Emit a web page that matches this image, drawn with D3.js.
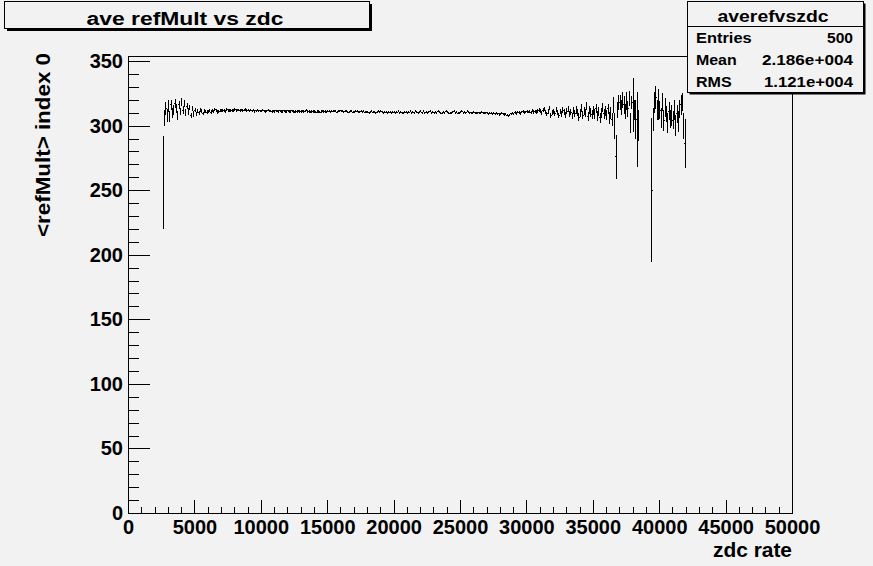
<!DOCTYPE html>
<html>
<head>
<meta charset="utf-8">
<script src="https://cdn.jsdelivr.net/npm/d3@7"></script>
<style>
  html, body { margin: 0; padding: 0; background: #f2f2f2; }
  svg { display: block; }
  text { font-family: "Liberation Sans", Arial, Helvetica, sans-serif; font-weight: bold; fill: #000; }
</style>
</head>
<body>
<div id="chart"></div>
<script>
// profile bins: 100 wide, first filled bin starts at 2600
var binStart = 2600, binWidth = 100;

var refMult = [
  256, 306, 313, 308,
  315, 307, 316, 310, 312, 317, 313, 308, 316, 311,
  318, 312, 317, 310, 315, 311, 314, 308, 313, 309,
  312, 309, 311, 310, 312, 311, 309.5, 311.5, 311, 310.5,
  311, 311.5, 310.5, 312, 311, 312.5, 311.5, 310.5, 311, 311.5,
  312, 311.5, 312, 311, 312.5, 311.5, 312, 312, 311.5, 312,
  312.5, 311.5, 312, 312, 311.5, 312, 311.5, 312, 312.5, 311.5,
  312, 311.5, 312, 311.5, 312, 311, 311.5, 312, 311.5, 311.5,
  311.5, 312, 311.5, 311, 311.5, 312, 311.5, 311.5, 311, 311.5,
  311, 311.5, 311.5, 311, 311.5, 311, 311, 311.5, 311, 311,
  311.5, 311, 311, 311.5, 311, 310.5, 311, 311, 311.5, 311,
  311, 311.5, 311, 311.5, 312, 311, 311, 310.5, 311, 311,
  311, 310.5, 311, 311, 310.5, 311, 311.5, 311, 311, 310.5,
  311, 311, 310.5, 311, 311.5, 311, 311, 310.5, 311, 311,
  311.5, 311, 310.5, 311, 311, 310.5, 310.5, 311, 311, 310.5,
  310.5, 311, 311, 310.5, 310.5, 311, 310.5, 311, 310.5, 310.5,
  310.5, 310, 310.5, 311, 310.5, 310.5, 310, 310.5, 311, 310.5,
  311, 310.5, 310, 310.5, 310.5, 310, 310.5, 310.5, 310, 310.5,
  310.5, 310, 310.5, 311, 310, 310.5, 310, 310, 310.5, 310.5,
  310, 310.5, 311, 310, 310.5, 310, 311, 310.5, 309.5, 310.5,
  311, 310, 311.5, 309.5, 310.5, 310, 310.5, 311, 310, 310.5,
  310, 310.5, 310, 311, 310.5, 310, 309.5, 310.5, 310, 311,
  310.5, 310, 309.5, 310, 310.5, 311, 310, 310.5, 309.5, 310,
  310.5, 311, 310, 310.5, 310, 311, 310.5, 310, 309.5, 310,
  310.5, 310, 309.5, 310, 309.5, 310, 310.5, 309.5, 309.5, 310,
  309.5, 309, 309.5, 310, 309, 309.5, 309, 309.5, 309, 308.5,
  309, 309.5, 309, 308.5, 309, 308, 307.5, 308, 309, 309.5,
  309, 310, 309.5, 310.5, 310, 309.5, 310.5, 311, 310, 310.5,
  311, 310.5, 311, 310, 311.5, 310.5, 311, 310.5, 311.5, 312,
  311, 310, 312, 313, 310.5, 309, 311, 313.5, 308, 310,
  311, 309.5, 312.5, 310, 308, 311, 309, 312, 310.5, 308.5,
  311, 313, 309, 310.5, 307.5, 311.5, 309, 312, 310, 306.5,
  310, 313.5, 308, 311, 309.5, 315, 307, 312, 310, 308.5,
  312, 309, 313, 307.5, 311, 306, 310, 314, 309, 311.5,
  308, 313, 306, 310, 305, 316, 300, 276, 312, 318,
  318, 314, 320, 316, 311, 319, 313, 321, 302, 318,
  316, 312, 305, 297, 300, null, null, null, null, null,
  null, null, null, null, 250, 305, 318, 322, 312, 316,
  312, 306, 318, 304, 314, 309, 302, 311, 305, 308,
  304, 312, 300, 309, 303, 313, 316, 318, 300, 286
];

var refMultErr = [
  36, 6, 5, 5,
  4.5, 4.5, 4, 4, 4, 3.5, 3.5, 3.5, 3, 3,
  3, 3, 2.5, 2.5, 2.5, 2.5, 2, 2, 2, 2,
  1.8, 1.8, 1.6, 1.6, 1.5, 1.5, 1.4, 1.4, 1.3, 1.3,
  1.2, 1.2, 1.2, 1.2, 1.2, 1.2, 1.2, 1.2, 1.2, 1.2,
  1.1, 1.1, 1.1, 1.1, 1.1, 1.1, 1.1, 1.1, 1.1, 1.1,
  1, 1, 1, 1, 1, 1, 1, 1, 1, 1,
  0.9, 0.9, 0.9, 0.9, 0.9, 0.9, 0.9, 0.9, 0.9, 0.9,
  0.9, 0.9, 0.9, 0.9, 0.9, 0.9, 0.9, 0.9, 0.9, 0.9,
  0.9, 0.9, 0.9, 0.9, 0.9, 0.9, 0.9, 0.9, 0.9, 0.9,
  0.9, 0.9, 0.9, 0.9, 0.9, 0.9, 0.9, 0.9, 0.9, 0.9,
  0.9, 0.9, 0.9, 0.9, 0.9, 0.9, 0.9, 0.9, 0.9, 0.9,
  0.9, 0.9, 0.9, 0.9, 0.9, 0.9, 0.9, 0.9, 0.9, 0.9,
  0.8, 0.8, 0.8, 0.8, 0.8, 0.8, 0.8, 0.8, 0.8, 0.8,
  0.8, 0.8, 0.8, 0.8, 0.8, 0.8, 0.8, 0.8, 0.8, 0.8,
  0.8, 0.8, 0.8, 0.8, 0.8, 0.8, 0.8, 0.8, 0.8, 0.8,
  0.8, 0.8, 0.8, 0.8, 0.8, 0.8, 0.8, 0.8, 0.8, 0.8,
  0.8, 0.8, 0.8, 0.8, 0.8, 0.8, 0.8, 0.8, 0.8, 0.8,
  0.8, 0.8, 0.8, 0.8, 0.8, 0.8, 0.8, 0.8, 0.8, 0.8,
  0.8, 0.8, 0.8, 0.8, 0.8, 0.8, 0.8, 0.8, 0.8, 0.8,
  0.8, 0.8, 0.8, 0.8, 0.8, 0.8, 0.8, 0.8, 0.8, 0.8,
  0.8, 0.8, 0.8, 0.8, 0.8, 0.8, 0.8, 0.8, 0.8, 0.8,
  0.8, 0.8, 0.8, 0.8, 0.8, 0.8, 0.8, 0.8, 0.8, 0.8,
  0.8, 0.8, 0.8, 0.8, 0.8, 0.8, 0.8, 0.8, 0.8, 0.8,
  0.8, 0.8, 0.8, 0.8, 0.8, 0.8, 0.8, 0.8, 0.8, 0.8,
  0.9, 0.9, 0.9, 0.9, 0.9, 0.9, 0.9, 0.9, 0.9, 0.9,
  0.9, 0.9, 0.9, 0.9, 0.9, 0.9, 0.9, 0.9, 0.9, 0.9,
  1, 1, 1, 1, 1, 1, 1, 1, 1, 1,
  1.1, 1.1, 1.1, 1.2, 1.2, 1.2, 1.3, 1.3, 1.4, 1.4,
  1.5, 1.5, 1.6, 1.6, 1.7, 1.7, 1.8, 1.8, 1.9, 1.9,
  2, 2, 2, 2.1, 2.1, 2.1, 2.2, 2.2, 2.2, 2.3,
  2.4, 2.5, 2.5, 2.6, 2.6, 2.7, 2.7, 2.8, 2.8, 2.9,
  3, 3, 3.1, 3.1, 3.2, 3.2, 3.3, 3.3, 3.4, 3.4,
  3.5, 3.5, 3.6, 3.6, 3.7, 3.7, 3.8, 3.8, 3.9, 3.9,
  4, 4, 4.5, 4.5, 5, 6, 10, 17, 6, 6,
  6, 6, 6, 7, 6, 7, 6, 6, 8, 5,
  21, 8, 15, 29, 12, null, null, null, null, null,
  null, null, null, null, 56, 9, 8, 9, 8, 12,
  7, 8, 7, 8, 7, 6, 8, 7, 7, 8,
  7, 8, 8, 7, 8, 7, 8, 7, 10, 19
];

var xMajorTicks = [0, 5000, 10000, 15000, 20000, 25000, 30000, 35000, 40000, 45000, 50000];
var yMajorTicks = [0, 50, 100, 150, 200, 250, 300, 350];

var histTitle = "ave refMult vs zdc";
var statsName = "averefvszdc";
var statLabels = ["Entries", "Mean", "RMS"];
var statValues = ["500", "2.186e+004", "1.121e+004"];

var W = 873, H = 566, bg = "#f2f2f2";

var svg = d3.select("#chart").append("svg")
  .attr("width", W)
  .attr("height", H);

svg.append("rect").attr("width", W).attr("height", H).attr("fill", bg);

// frame geometry (pixel edges of the ROOT pad frame)
var frame = {left: 128, right: 792, top: 56, bottom: 513};

var x = d3.scaleLinear().domain([0, 50000]).range([frame.left, frame.right]);
var y = d3.scaleLinear().domain([0, 353.9]).range([frame.bottom, frame.top]);

// minor ticks first so the majors sit on top
svg.append("g")
  .attr("transform", "translate(0," + frame.bottom + ")")
  .call(d3.axisBottom(x)
    .tickValues(d3.range(0, 50001, 1000).filter(function(d) { return d % 5000 !== 0; }))
    .tickSize(-6).tickSizeOuter(0).tickFormat(""));

svg.append("g")
  .attr("class", "x-axis")
  .attr("transform", "translate(0," + frame.bottom + ")")
  .call(d3.axisBottom(x)
    .tickValues(xMajorTicks)
    .tickSize(-13).tickSizeOuter(0).tickPadding(7)
    .tickFormat(d3.format("d")));

svg.append("g")
  .attr("transform", "translate(" + frame.left + ",0)")
  .call(d3.axisLeft(y)
    .tickValues(d3.range(0, 351, 10).filter(function(d) { return d % 50 !== 0; }))
    .tickSize(-11).tickSizeOuter(0).tickFormat(""));

svg.append("g")
  .attr("class", "y-axis")
  .attr("transform", "translate(" + frame.left + ",0)")
  .call(d3.axisLeft(y)
    .tickValues(yMajorTicks)
    .tickSize(-22).tickSizeOuter(0).tickPadding(5)
    .tickFormat(d3.format("d")));

svg.selectAll(".tick line, .domain")
  .attr("stroke", "#000")
  .attr("shape-rendering", "crispEdges");
svg.selectAll(".x-axis text, .y-axis text")
  .attr("font-size", 20)
  .style("font-family", '"Liberation Sans", Arial, sans-serif')
  .style("font-weight", "bold");

// frame box
svg.append("rect")
  .attr("x", frame.left + 0.5).attr("y", frame.top + 0.5)
  .attr("width", frame.right - frame.left).attr("height", frame.bottom - frame.top)
  .attr("fill", "none").attr("stroke", "#000")
  .attr("shape-rendering", "crispEdges");

// profile: horizontal bar across the bin + vertical error bar at the centre
var p = d3.path();
refMult.forEach(function(v, i) {
  if(v === null) return;
  var lo = binStart + i * binWidth,
      e = refMultErr[i],
      xc = x(lo + binWidth / 2);
  p.moveTo(x(lo), y(v));
  p.lineTo(x(lo + binWidth), y(v));
  p.moveTo(xc, y(v - e));
  p.lineTo(xc, y(v + e));
});
svg.append("path")
  .attr("d", p.toString())
  .attr("fill", "none")
  .attr("stroke", "#000")
  .attr("stroke-width", 1)
  .attr("shape-rendering", "crispEdges");

// axis titles
svg.append("text")
  .attr("x", frame.right).attr("y", 557)
  .attr("text-anchor", "end")
  .attr("font-size", 20)
  .attr("textLength", 79).attr("lengthAdjust", "spacingAndGlyphs")
  .text("zdc rate");

svg.append("text")
  .attr("transform", "translate(50,53) rotate(-90)")
  .attr("text-anchor", "end")
  .attr("font-size", 20)
  .attr("textLength", 184).attr("lengthAdjust", "spacingAndGlyphs")
  .text("<refMult> index 0");

// boxes with a ROOT-style drop shadow
function shadowBox(bx, by, bw, bh, off) {
  svg.append("rect")
    .attr("x", bx + off).attr("y", by + off)
    .attr("width", bw).attr("height", bh)
    .attr("fill", "#000");
  svg.append("rect")
    .attr("x", bx + 0.5).attr("y", by + 0.5)
    .attr("width", bw).attr("height", bh)
    .attr("fill", bg).attr("stroke", "#000")
    .attr("shape-rendering", "crispEdges");
}

shadowBox(4, 1, 365, 27, 3);
svg.append("text")
  .attr("x", 185).attr("y", 25)
  .attr("text-anchor", "middle")
  .attr("font-size", 18)
  .attr("textLength", 197).attr("lengthAdjust", "spacingAndGlyphs")
  .text(histTitle);

// stats box
shadowBox(687, 1, 176, 91, 2.5);
svg.append("line")
  .attr("x1", 687).attr("x2", 863)
  .attr("y1", 26.5).attr("y2", 26.5)
  .attr("stroke", "#000").attr("shape-rendering", "crispEdges");
svg.append("text")
  .attr("x", 773).attr("y", 21.5)
  .attr("text-anchor", "middle")
  .attr("font-size", 17)
  .attr("textLength", 111).attr("lengthAdjust", "spacingAndGlyphs")
  .text(statsName);

var rowBase = [43.3, 65, 87.3],
    labelLen = [55.7, 40.7, 35.7],
    valueLen = [26, 91, 89];

statLabels.forEach(function(label, i) {
  svg.append("text")
    .attr("x", 696).attr("y", rowBase[i])
    .attr("font-size", 15.5)
    .attr("textLength", labelLen[i]).attr("lengthAdjust", "spacingAndGlyphs")
    .text(label);
  svg.append("text")
    .attr("x", 853).attr("y", rowBase[i])
    .attr("text-anchor", "end")
    .attr("font-size", 15.5)
    .attr("textLength", valueLen[i]).attr("lengthAdjust", "spacingAndGlyphs")
    .text(statValues[i]);
});
</script>
</body>
</html>
